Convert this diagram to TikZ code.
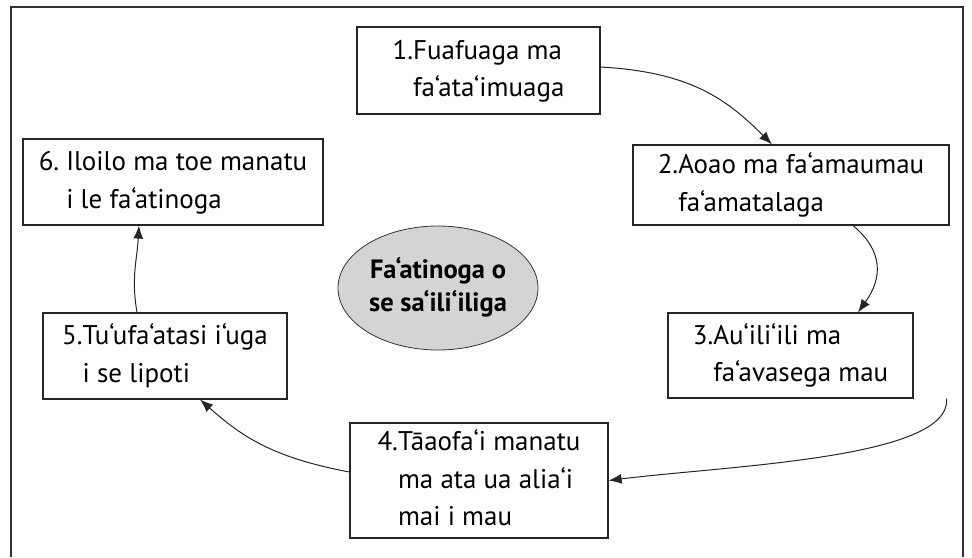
\documentclass[tikz,border=0pt]{standalone}
\usepackage{fontspec}
\setmainfont{PT Sans}
\usetikzlibrary{arrows.meta,shapes.geometric}
\tikzset{stage/.style={draw=black!85,line width=1.2pt,rectangle,inner sep=0pt,
		font=\fontsize{27}{37.5}\selectfont},
	hub/.style={draw=black!80,line width=0.8pt,ellipse,fill=black!17,inner sep=0pt,
		font=\fontsize{26.5}{33}\selectfont\bfseries},
	flow/.style={draw=black!85,line width=1pt,-{Latex[length=13pt,width=10pt]}}}

\begin{document}
\begin{tikzpicture}[x=1pt,y=-1pt]
	\useasboundingbox (0,0) rectangle (972,557);
	\draw[line width=2pt,black!80] (10.5,557) -- (10.5,7) -- (963,7) -- (963,557);
	\node[hub,minimum width=200pt,minimum height=124pt] (core) at (438,288)
		{\begin{tabular}{@{}c@{}}Fa‘atinoga o\\se sa‘ili‘iliga\end{tabular}};
	\node[stage,minimum width=243pt,minimum height=87pt] (s1) at (478.5,70.5)
		{\begin{tabular}{@{}l@{}l@{}}1.&Fuafuaga ma\\&fa‘ata‘imuaga\end{tabular}};
	\node[stage,minimum width=316pt,minimum height=80pt] (s2) at (791,185)
		{\begin{tabular}{@{}l@{}l@{}}2.&Aoao ma fa‘amaumau\\&fa‘amatalaga\end{tabular}};
	\node[stage,minimum width=245pt,minimum height=85pt] (s3) at (790.5,355.5)
		{\begin{tabular}{@{}l@{}l@{}}3.&Au‘ili‘ili ma\\&fa‘avasega mau\end{tabular}};
	\node[stage,minimum width=258pt,minimum height=115pt] (s4) at (479,480.5)
		{\begin{tabular}{@{}l@{}l@{}}4.&Tāaofa‘i manatu\\&ma ata ua alia‘i\\&mai i mau\end{tabular}};
	\node[stage,minimum width=244pt,minimum height=86pt] (s5) at (165,356)
		{\begin{tabular}{@{}l@{}l@{}}5.&Tu‘ufa‘atasi i‘uga\\&i se lipoti\end{tabular}};
	\node[stage,minimum width=300pt,minimum height=86pt] (s6) at (173,182)
		{\begin{tabular}{@{}l@{}l@{}}6.\kern7pt&Iloilo ma toe manatu\\&i le fa‘atinoga\end{tabular}};
	\draw[flow] ([yshift=3.5pt]s1.east) .. controls +(90,5) and +(-45,-45) .. ([xshift=-19pt]s2.north);
	\draw[flow] ([xshift=62pt]s2.south) .. controls +(30,25) and +(25,-35) .. ([xshift=67.5pt]s3.north);
	\draw[flow] ([xshift=33pt]s3.south east) .. controls +(5,60) and +(120,-15) .. (s4.east);
	\draw[flow] ([yshift=8.5pt]s4.west) .. controls +(-80,-15) and +(40,35) .. ([xshift=35pt]s5.south);
	\draw[flow] ([xshift=-28pt]s5.north) .. controls +(-6,-35) and +(-2,35) .. ([xshift=-34pt]s6.south);
\end{tikzpicture}
\end{document}
